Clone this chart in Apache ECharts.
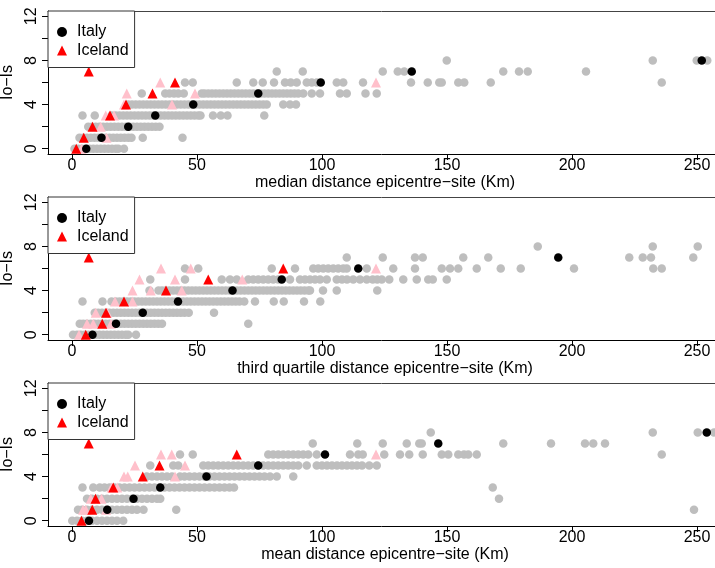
<!DOCTYPE html>
<html>
<head>
<meta charset="utf-8">
<script src="https://cdn.jsdelivr.net/npm/echarts@6/dist/echarts.min.js"></script>
<style>
html,body{margin:0;padding:0;background:#fff}
#chart{width:715px;height:568px}
</style>
</head>
<body>
<div id="chart"></div>
<script>
// Io-Is against distance summaries; every list below is indexed by Io-Is level (0..8)
const xTicks = [0, 50, 100, 150, 200, 250];
const yTicks = [0, 2, 4, 6, 8, 10, 12];
const yLabels = [0, 4, 8, 12];
const xTitles = [
  'median distance epicentre\u2212site (Km)',
  'third quartile distance epicentre\u2212site (Km)',
  'mean distance epicentre\u2212site (Km)'
];

// ---- median distance ----
const medianItalySites = [
  [1,2.5,4,5.5,7,8.5,10,11.5,13,14.5,16,17.5,18.5,20.8],
  [3,4.5,6,7.5,9,10.5,12,13.5,15,16.5,18,19.5,21,22.5,23.8,28.3,44.2],
  [6.5,8,9.5,11,12.5,14,15.5,17,18.5,20,21.5,23,24.5,26,27.5,29,30.5,32,33.5,35],
  [4.2,9.1,15.8,17.5,19,20.5,22,23.5,25,26.5,28,29.5,31,32.5,34,35.5,37,38.5,40,41.5,43,44.5,46,47.5,49,50.5,51.4,56.4,59.5,62.2,76.9],
  [22.5,24,25.5,27,28.5,30,31.5,33,34.5,36,37.5,39,40.5,42,43.5,45,46.5,48,49.5,51,52.5,54,55.5,57,58.5,60,61.5,63,64.5,66,67.5,69,70.5,72,73.5,75,76.5,77.9,84.5,87.2,89.6],
  [27.9,37.3,39,40.8,42.5,44.7,51.9,53,54.5,56,57.5,59,60.5,62,63.5,65,66.5,68,69.5,71,72.5,74,75.5,77,78.5,80,81.5,83,84.5,86,87.5,89,90.5,92.5,95.9,99.2,107.2,109.9,117.4,121.9],
  [45.2,48.3,65.9,72.5,76.3,80.8,85.2,87.5,89.9,93.9,95.9,97.9,105.9,108.5,116.4,135.6,142.3,146.9,147.9,154.5,156.9,167.5,235.9],
  [81.9,92.3,124.3,130.3,132.9,172.5,178.8,182.3,205.6],
  [149.9,232.3,249.9,254.1]
];
const medianIcelandSites = [[3.8],[13.8],[11.5],[13.5,16.8],[20.8,40],[21.9,49.2],[35.3,121.6]];
const medianItaly = [5.7,11.8,22.5,33.3,48.5,74.5,99.5,135.9,251.9];
const medianIceland = [1.7,4.7,8.2,15.2,21.6,32.2,41.2,6.7];

// ---- third quartile distance ----
const q3ItalySites = [
  [0.4,2,3.5,5,6.5,8,9.5,11,12.5,14,15.5,17,18.5,20,21.5,22.5,25.6],
  [3.1,4.5,6,7.5,9,10.5,12,13.5,15,16.5,18,19.5,21,22.5,24,25.5,27,28.5,30,31.5,33,34.5,36,70.5],
  [9.1,10.5,12,13.5,15,16.5,18,19.5,21,22.5,24,25.5,27,28.5,30,31.5,33,34.5,36,37.5,39,40.5,42,43.5,45,46.7,56.8],
  [4.2,12.2,15.8,17.5,19,20.5,22,23.5,25,26.5,28,29.5,31,32.5,34,35.5,37,38.5,40,41.5,43,44.5,46,47.5,49,50.5,52,53.5,55,56.5,58,59.5,61,62.5,64,65.5,67,68.9,73.2,80.7,84.7,92.8,99.3],
  [31,34.6,36,37.5,39,40.5,42,43.5,45,46.5,48,49.5,51,52.5,54,55.5,57,58.5,60,61.5,63,64.5,66,67.5,69,70.5,72,73.5,75,76.5,78,79.5,81,82.5,84,85.5,87,88.5,90,91.5,93,94.5,95.2,100.4,105.9,122.1],
  [31.3,45.2,59.9,63.2,65.9,70.5,72.5,74.5,76.5,78.5,80.5,82.5,87.2,91.2,93.2,95.2,97.2,99.2,101.9,105.9,108,110,112.5,115.2,117.9,120.3,122.1,123.9,126.9,132.5,137.9,142.5,144.3,149.9],
  [45.2,50.5,79.9,89.2,96.5,98.5,100.5,102.5,104.5,106.5,108.5,109.9,117.9,128.5,137.2,147.9,151.2,154.5,161.9,171.5,179.5,200.8,232.5,235.9],
  [109.9,124.3,137.2,140.3,156.5,166.5,222.9,228.3,231.6,248.5],
  [186.3,232.3,250.3]
];
const q3IcelandSites = [[2.8],[6,8.5,15.6],[9.5,14.1],[17.2,24.2],[24.2,31.5,43.9],[27,41.2,68.1],[35.6,47.5,121.6]];
const q3Italy = [8.2,17.6,28.3,42.4,64.2,83.9,114.5,194.5];
const q3Iceland = [5.5,12.1,13.6,20.8,37.6,54.5,84.5,6.7];

// ---- mean distance ----
const meanItalySites = [
  [0.1,2,4,6,8,10,12,14,16,18,20.5],
  [2.4,4,6,8,10,12,14,16,18,20,22,24,26,28.6,41.7,248.8],
  [6,8,10,12,14,16,18,20,22,24,26,28,30,32,34,35.3,170.8],
  [4.2,8.5,11.1,13,15,17,19,21,23,25,27,29,31,33,35,37,39,41,43,45,47,49,51,53,55,57,59,61,63,64.8,168.3],
  [29.9,32,34,36,38,40,43.2,45,47,49,51,53,55,57,59,61,63,65,67,69,71,73,75,77,79.2,81.9,88.5],
  [31.3,40.5,42.5,52.5,54.5,56.5,58.5,60.5,62.5,64.5,66.5,68.5,70.5,72.5,74.5,76.5,78.5,80.5,82.5,84.5,86.5,88.5,90.5,93.9,97.9,100,102,104,106,108,110,112,114,116,118.9,121.9],
  [43.2,48.3,78.5,80.5,82.5,84.5,86.5,88.5,90.5,92.5,94.5,97.9,111.2,114.5,116.3,124.9,131.2,134.9,140.3,147.9,150.5,154.5,156.8,158.5,161.9,235.9],
  [96.3,114.1,124.3,133.9,138.9,139.9,172.5,191.6,205.2,208.5,213.2],
  [143.5,232.3,250.3,256.8]
];
const meanIcelandSites = [[],[4.4,5.5,13.6],[7.5,11.8],[15.8,18.1],[20.8,22.3,41.2],[25.2,45.2],[35.6,39.9,121.6]];
const meanItaly = [6.8,14.1,24.6,35.3,53.8,74.5,101.2,146.5,253.9];
const meanIceland = [3.8,8.1,9.4,16.5,28.3,35,65.9,6.7];

const panels = [
  {sitesIt: medianItalySites, sitesIc: medianIcelandSites, it: medianItaly, ic: medianIceland},
  {sitesIt: q3ItalySites, sitesIc: q3IcelandSites, it: q3Italy, ic: q3Iceland},
  {sitesIt: meanItalySites, sitesIc: meanIcelandSites, it: meanItaly, ic: meanIceland}
];

function byLevel(levels) {
  const pts = [];
  levels.forEach((xs, lvl) => xs.forEach(x => pts.push([x, lvl])));
  return pts;
}
function oneEach(xs) {
  return xs.map((x, lvl) => [x, lvl]);
}

const FONT = '"Liberation Sans", Arial, Helvetica, sans-serif';
const FS = 16;
const tops = [11, 197, 383];
const X_MIN = -9.6, X_MAX = 257.2;
const grid = [], xAxis = [], yAxis = [], series = [], legend = [];

panels.forEach((p, i) => {
  grid.push({left: 48, right: 0, top: tops[i], height: 143, outerBoundsMode: 'none', containLabel: false});
  xAxis.push({
    gridIndex: i, type: 'value', min: X_MIN, max: X_MAX,
    name: xTitles[i], nameLocation: 'middle', nameGap: 16,
    nameTextStyle: {fontSize: FS, color: '#000', fontFamily: FONT, padding: [0, 0, 0, 7]},
    axisLine: {onZero: false, lineStyle: {color: '#000', width: 1}},
    axisTick: {customValues: xTicks, length: 6, lineStyle: {color: '#000'}},
    axisLabel: {customValues: xTicks, fontSize: FS, color: '#000', fontFamily: FONT, margin: 3.5},
    splitLine: {show: false}
  });
  yAxis.push({
    gridIndex: i, type: 'value', min: -0.48, max: 12.48,
    name: 'Io\u2212Is', nameLocation: 'middle', nameGap: 23,
    nameTextStyle: {fontSize: FS, color: '#000', fontFamily: FONT},
    axisLine: {onZero: false, lineStyle: {color: '#000', width: 1}},
    axisTick: {customValues: yTicks, length: 6, lineStyle: {color: '#000'}},
    axisLabel: {customValues: yLabels, rotate: 90, fontSize: FS, color: '#000', fontFamily: FONT, margin: 8.5},
    splitLine: {show: false}
  });
  const common = {type: 'scatter', xAxisIndex: i, yAxisIndex: i, silent: true};
  series.push(Object.assign({}, common, {
    name: 'Italy sites', symbol: 'circle', symbolSize: 8.5,
    itemStyle: {color: '#bebebe', opacity: 1}, data: byLevel(p.sitesIt)
  }));
  series.push(Object.assign({}, common, {
    name: 'Iceland sites', symbol: 'triangle', symbolSize: 10,
    itemStyle: {color: '#ffc0cb', opacity: 1}, data: byLevel(p.sitesIc)
  }));
  series.push(Object.assign({}, common, {
    name: 'Italy', symbol: 'circle', symbolSize: 8.5,
    itemStyle: {color: '#000', opacity: 1}, data: oneEach(p.it)
  }));
  series.push(Object.assign({}, common, {
    name: 'Iceland', symbol: 'triangle', symbolSize: 10,
    itemStyle: {color: '#ff0000', opacity: 1}, data: oneEach(p.ic)
  }));
  legend.push({
    left: 48, top: tops[i], orient: 'vertical',
    data: [{name: 'Italy', icon: 'circle'}, {name: 'Iceland', icon: 'triangle'}],
    padding: [12, 6, 8, 9], itemWidth: 10, itemHeight: 10, itemGap: 0.5,
    itemStyle: {opacity: 1},
    textStyle: {fontSize: FS, color: '#000', fontFamily: FONT, lineHeight: 18, padding: [0, 0, 0, 5]},
    borderColor: '#333', borderWidth: 1, backgroundColor: '#fff',
    selectedMode: false
  });
});

// frame line along the top of each panel
panels.forEach((p, i) => {
  xAxis.push({
    gridIndex: i, type: 'value', position: 'top', min: X_MIN, max: X_MAX,
    axisLine: {show: true, onZero: false, lineStyle: {color: '#444', width: 1}},
    axisTick: {show: false}, axisLabel: {show: false}, splitLine: {show: false}
  });
});

const chart = echarts.init(document.getElementById('chart'), null, {renderer: 'canvas'});
chart.setOption({animation: false, grid, xAxis, yAxis, legend, series});
</script>
</body>
</html>
